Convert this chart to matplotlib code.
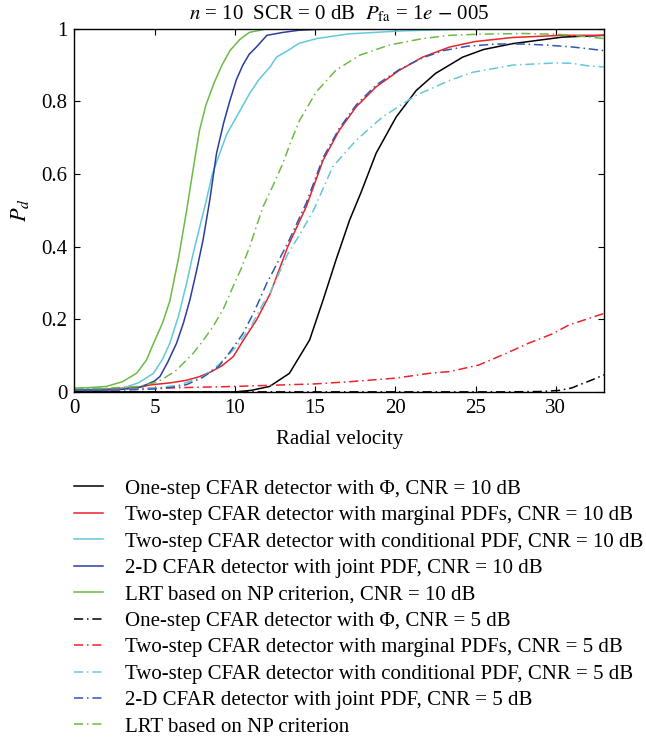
import numpy as np
from matplotlib import pyplot as plt

plt.rcParams['font.family'] = ['Liberation Serif', 'DejaVu Serif']
plt.rcParams['mathtext.fontset'] = 'stix'
plt.rcParams['font.size'] = 15

# --- data (radial velocity vs Pd) ---
# CNR = 10 dB (solid)
x_one10 = [0, 10, 11, 12.17, 13.4, 14.66, 15.5, 16.3, 17.15, 17.87, 18.8, 20.05, 21.3, 22.5, 24.2, 25.5, 27.3, 30.4, 33]
y_one10 = [0, 0, 0.004, 0.015, 0.051, 0.143, 0.253, 0.363, 0.473, 0.55, 0.657, 0.757, 0.83, 0.877, 0.922, 0.943, 0.959, 0.977, 0.982]

x_marg10 = [0, 2, 4, 4.7, 6, 7, 7.8, 8.5, 9.2, 9.9, 10.5, 11.35, 12.2, 13.3, 14.45, 15.5, 16.5, 17.56, 18.8, 20.26, 21.7, 23.4, 25, 27.3, 30.4, 33]
y_marg10 = [0.005, 0.008, 0.012, 0.019, 0.025, 0.032, 0.042, 0.055, 0.072, 0.097, 0.14, 0.198, 0.27, 0.40, 0.51, 0.638, 0.72, 0.785, 0.84, 0.886, 0.922, 0.95, 0.965, 0.976, 0.982, 0.982]

x_cond10 = [0, 2, 3, 4, 4.93, 5.5, 5.95, 6.5, 7, 7.4, 7.82, 8.23, 8.6, 9.06, 9.5, 10.1, 10.9, 11.5, 12.2, 12.6, 13.3, 14, 15.1, 17.1, 20.3, 25, 33]
y_cond10 = [0.005, 0.006, 0.01, 0.025, 0.051, 0.09, 0.134, 0.21, 0.30, 0.38, 0.455, 0.528, 0.60, 0.657, 0.71, 0.757, 0.82, 0.86, 0.895, 0.922, 0.94, 0.96, 0.973, 0.986, 0.994, 1.0, 1.0]

x_joint10 = [0, 2, 3, 4, 4.5, 5, 5.33, 5.8, 6.37, 6.8, 7.2, 7.6, 8.02, 8.44, 8.86, 9.3, 9.68, 10.1, 10.5, 10.9, 11.35, 12, 13, 14, 16, 33]
y_joint10 = [0.005, 0.005, 0.007, 0.012, 0.02, 0.03, 0.042, 0.08, 0.134, 0.19, 0.253, 0.33, 0.418, 0.528, 0.657, 0.74, 0.80, 0.86, 0.90, 0.93, 0.95, 0.982, 0.99, 0.996, 1.0, 1.0]

x_lrt10 = [0, 1, 2, 3, 3.9, 4.5, 4.9, 5.5, 5.95, 6.5, 7.0, 7.5, 7.8, 8.2, 8.7, 9.2, 9.7, 10.3, 10.9, 12, 33]
y_lrt10 = [0.01, 0.012, 0.015, 0.028, 0.052, 0.088, 0.13, 0.19, 0.25, 0.37, 0.50, 0.64, 0.72, 0.79, 0.85, 0.90, 0.94, 0.97, 0.99, 1.0, 1.0]

# CNR = 5 dB (dash-dot)
x_one5 = [0, 27, 29, 30.2, 31, 31.5, 32.2, 33]
y_one5 = [0, 0, 0.001, 0.004, 0.011, 0.02, 0.032, 0.047]

x_marg5 = [0, 5, 10, 15, 17.15, 20.05, 22.1, 23.4, 25.2, 26.9, 28.3, 29.8, 30.8, 33]
y_marg5 = [0.008, 0.01, 0.015, 0.022, 0.028, 0.038, 0.051, 0.056, 0.074, 0.106, 0.134, 0.16, 0.184, 0.216]

x_cond5 = [0, 3, 5, 6.57, 8.02, 9, 10.1, 11, 11.77, 12.17, 13.3, 14, 14.9, 16.1, 17.56, 19.2, 21.3, 23.4, 24.8, 27.3, 30, 31, 32, 33]
y_cond5 = [0.005, 0.006, 0.01, 0.019, 0.042, 0.075, 0.125, 0.18, 0.244, 0.27, 0.38, 0.43, 0.50, 0.62, 0.693, 0.757, 0.817, 0.858, 0.88, 0.90, 0.906, 0.905, 0.898, 0.895]

x_joint5 = [0, 3, 5, 6, 7, 8, 9, 9.7, 10.5, 11.2, 12, 13.3, 14.45, 15.5, 16.5, 17.56, 18.8, 20.26, 21.7, 23, 24.5, 26.3, 28, 29.4, 31, 33]
y_joint5 = [0.005, 0.005, 0.008, 0.012, 0.02, 0.04, 0.07, 0.11, 0.16, 0.22, 0.30, 0.41, 0.52, 0.645, 0.725, 0.79, 0.845, 0.888, 0.92, 0.94, 0.952, 0.958, 0.958, 0.955, 0.95, 0.94]

x_lrt5 = [0, 2, 4, 5, 5.5, 6.37, 7.4, 8.0, 8.65, 9.3, 9.89, 10.4, 10.93, 11.3, 11.76, 12.4, 13, 13.5, 14.04, 15.07, 16.3, 17.77, 19.6, 21.7, 23.4, 25.2, 28, 30, 31.5, 33]
y_lrt5 = [0.01, 0.01, 0.015, 0.025, 0.035, 0.06, 0.106, 0.14, 0.18, 0.23, 0.29, 0.34, 0.40, 0.45, 0.51, 0.57, 0.63, 0.69, 0.748, 0.826, 0.886, 0.927, 0.955, 0.973, 0.982, 0.985, 0.987, 0.985, 0.98, 0.973]

labels = [
    "One-step CFAR detector with \u03a6, CNR = 10 dB",
    "Two-step CFAR detector with marginal PDFs, CNR = 10 dB",
    "Two-step CFAR detector with conditional PDF, CNR = 10 dB",
    "2-D CFAR detector with joint PDF, CNR = 10 dB",
    "LRT based on NP criterion, CNR = 10 dB",
    "One-step CFAR detector with \u03a6, CNR = 5 dB",
    "Two-step CFAR detector with marginal PDFs, CNR = 5 dB",
    "Two-step CFAR detector with conditional PDF, CNR = 5 dB",
    "2-D CFAR detector with joint PDF, CNR = 5 dB",
    "LRT based on NP criterion",
]

black = "#000000"
red = "#ee2229"
cyan = "#62c9da"
blue = "#2a3d9e"
green = "#6cbb45"
dashdot = (0, (6, 2.5, 1, 2.5))

fig = plt.figure(figsize=(6.46, 7.38), dpi=100)
ax = fig.add_axes([0.115, 0.469, 0.82, 0.492])

series = [
    (x_one10, y_one10, black, "-"),
    (x_marg10, y_marg10, red, "-"),
    (x_cond10, y_cond10, cyan, "-"),
    (x_joint10, y_joint10, blue, "-"),
    (x_lrt10, y_lrt10, green, "-"),
    (x_one5, y_one5, black, dashdot),
    (x_marg5, y_marg5, red, dashdot),
    (x_cond5, y_cond5, cyan, dashdot),
    (x_joint5, y_joint5, "#3457ad", dashdot),
    (x_lrt5, y_lrt5, green, dashdot),
]

handles = []
for (xs, ys, c, ls), lab in zip(series, labels):
    h, = ax.plot(xs, ys, color=c, linestyle=ls, linewidth=1.1, label=lab)
    handles.append(h)

ax.set_xlim(0, 33)
ax.set_ylim(0, 1)
ax.set_xticks([0, 5, 10, 15, 20, 25, 30])
ax.set_yticks([0, 0.2, 0.4, 0.6, 0.8, 1])
ax.set_yticklabels(["0", "0.2", "0.4", "0.6", "0.8", "1"])
ax.tick_params(direction="in", top=True, right=True, length=4, labelsize=15, pad=5)
for s in ax.spines.values():
    s.set_linewidth(1.0)

ax.set_xlabel("Radial velocity", fontsize=15, labelpad=9)
ax.set_ylabel("$P_d$", fontsize=16, labelpad=7)
ax.set_title(r"$n$ = 10  SCR = 0 dB  $P_{\rm fa}$ = 1$e$ $-$ 005", fontsize=15, pad=7)

fig.legend(handles=handles, loc="upper left", bbox_to_anchor=(0.115, 1 - 479 / 738),
           frameon=False, fontsize=15, handlelength=1.4, handletextpad=1.05,
           labelspacing=0.33, borderpad=0, borderaxespad=0)

fig.savefig("out.png", dpi=100)
